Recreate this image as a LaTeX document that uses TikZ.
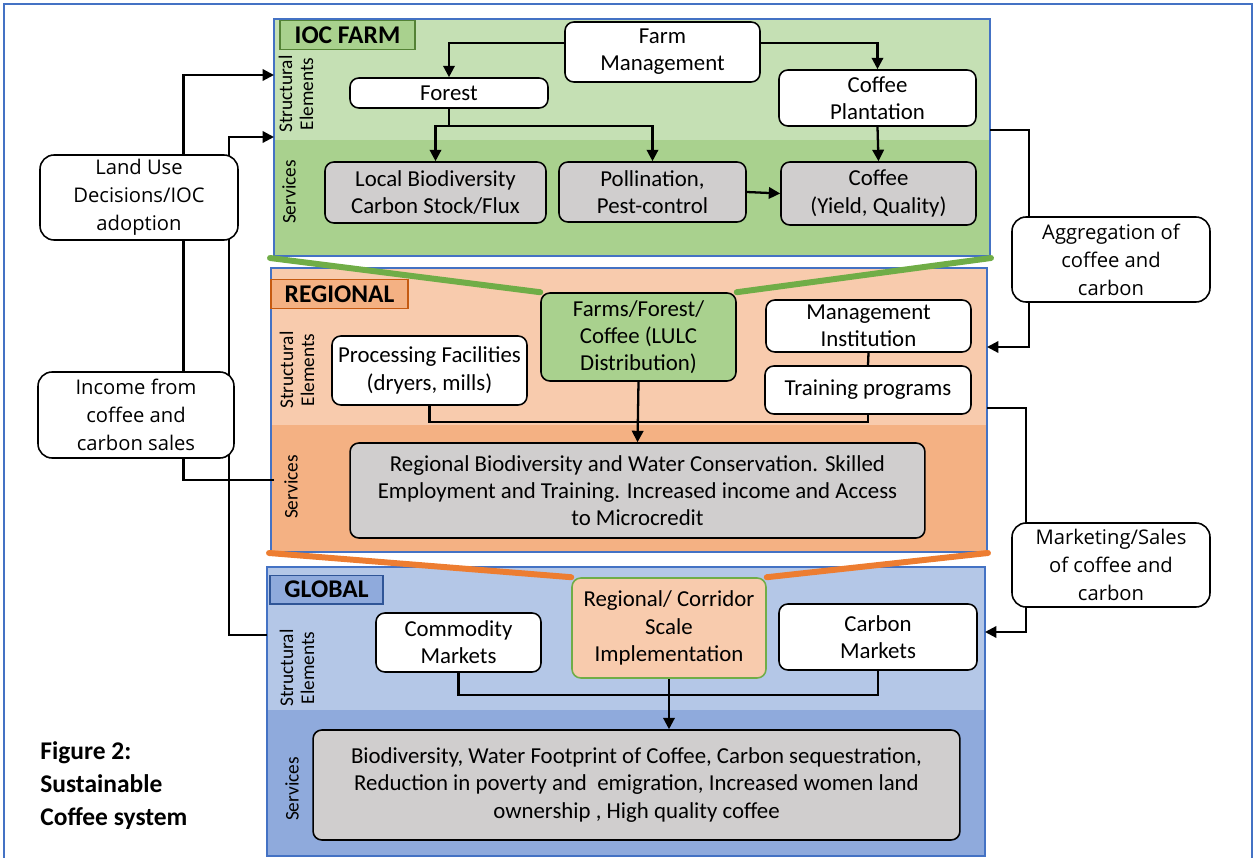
\documentclass[tikz,border=0pt]{standalone}
\usepackage{fontspec}
\setmainfont{Carlito}
\newfontfamily\sidefont{Open Sans}
\usepackage{tikz}
\usetikzlibrary{positioning,calc,arrows.meta,backgrounds}

\definecolor{iocL}{HTML}{C5E0B4}
\definecolor{iocD}{HTML}{A9D18E}
\definecolor{iocB}{HTML}{548235}
\definecolor{regL}{HTML}{F8CBAD}
\definecolor{regD}{HTML}{F4B183}
\definecolor{regB}{HTML}{C55A11}
\definecolor{glbL}{HTML}{B4C7E7}
\definecolor{glbD}{HTML}{8FAADC}
\definecolor{glbB}{HTML}{2F5597}
\definecolor{rim}{HTML}{4472C4}
\definecolor{tieG}{HTML}{70AD47}
\definecolor{tieO}{HTML}{ED7D31}
\definecolor{svcgray}{HTML}{D0CECE}

\begin{document}
\begin{tikzpicture}[x=0.02cm,y=-0.02cm,
        box/.style={draw,line width=0.9pt,rounded corners=5pt,fill=white,align=center,inner sep=1pt,font=\fontsize{13}{15.5}\selectfont},
        svc/.style={box,fill=svcgray},
        side/.style={box,rounded corners=8pt,font=\sidefont\fontsize{11.5}{16}\selectfont},
        tag/.style={draw,line width=0.8pt,font=\bfseries\fontsize{14.5}{16}\selectfont},
        lbl/.style={rotate=90,align=center,inner sep=0pt,font=\fontsize{11}{12}\selectfont},
        link/.style={line width=1.3pt},
        arr/.style={link,-{Triangle[length=6.5pt,width=6.5pt]}},
        tie/.style={line width=3.4pt,line cap=round}]
        \useasboundingbox (0,0) rectangle (1255,858);
        \draw[rim,line width=0.8pt] (4,858) -- (4,4) -- (1252,4) -- (1252,858);

        \begin{scope}[on background layer]
                \fill[iocL] (274,19) rectangle (990,140);
                \fill[iocD] (274,140) rectangle (990,256);
                \draw[rim,line width=0.6pt] (274,19) rectangle (990,256);

                \fill[regL] (271,268) rectangle (987,425);
                \fill[regD] (271,425) rectangle (987,552);
                \draw[rim,line width=0.6pt] (271,268) rectangle (987,552);

                \fill[glbL] (267,567) rectangle (985,710);
                \fill[glbD] (267,710) rectangle (985,856);
                \draw[rim,line width=0.6pt] (267,567) rectangle (985,856);
        \end{scope}

        \node[tag,fill=iocD,draw=iocB,minimum width=2.7cm,minimum height=0.52cm] (iocTag) at (347.5,35) {IOC FARM};
        \node[lbl] (iocStr) at (296,94) {Structural\\Elements};
        \node[lbl] (iocSrv) at (289,192) {Services};
        \node[box,minimum width=3.9cm,minimum height=1.2cm] (fm) at (662.5,52) {Farm\\Management};
        \node[box,minimum width=3.96cm,minimum height=0.6cm] (forest) at (449,93) {Forest};
        \node[box,minimum width=3.94cm,minimum height=1.12cm] (plant) at (877.5,98) {Coffee\\Plantation};
        \node[svc,minimum width=4.42cm,minimum height=1.22cm] (bio) at (435.5,192.5) {Local Biodiversity\\Carbon Stock/Flux};
        \node[svc,minimum width=3.74cm,minimum height=1.2cm] (poll) at (652.5,192) {Pollination,\\Pest-control};
        \node[svc,minimum width=3.9cm,minimum height=1.26cm] (cof) at (878.5,193.5) {Coffee\\(Yield, Quality)};

        \node[tag,fill=regD,draw=regB,minimum width=2.74cm,minimum height=0.56cm] (regTag) at (339.5,294) {REGIONAL};
        \node[lbl] (regStr) at (297,370) {Structural\\Elements};
        \node[lbl] (regSrv) at (291,487) {Services};
        \node[box,fill=iocD,minimum width=3.9cm,minimum height=1.76cm] (lulc) at (638.5,337) {Farms/Forest/\\Coffee (LULC\\Distribution)};
        \node[box,minimum width=4.1cm,minimum height=1.04cm] (inst) at (868.5,326) {Management\\Institution};
        \node[box,minimum width=4.12cm,minimum height=0.96cm] (train) at (868,390) {Training programs};
        \node[box,minimum width=3.9cm,minimum height=1.38cm] (proc) at (429.5,370.5) {Processing Facilities\\(dryers, mills)};
        \node[svc,minimum width=11.5cm,minimum height=1.9cm] (rsvc) at (637.5,490.5) {Regional Biodiversity and Water Conservation. Skilled\\Employment and Training. Increased income and Access\\to Microcredit};

        \node[tag,fill=glbD,draw=glbB,minimum width=2.26cm,minimum height=0.54cm] (glbTag) at (326.5,589.5) {GLOBAL};
        \node[lbl] (glbStr) at (297,668) {Structural\\Elements};
        \node[lbl] (glbSrv) at (292,789) {Services};
        \node[box,fill=regL,draw=tieG,minimum width=3.88cm,minimum height=2cm] (corr) at (669,628) {Regional/ Corridor\\Scale\\Implementation};
        \node[box,minimum width=3.3cm,minimum height=1.18cm] (comm) at (458.5,642.5) {Commodity\\Markets};
        \node[box,minimum width=3.96cm,minimum height=1.32cm] (carb) at (878,637) {Carbon\\Markets};
        \node[svc,minimum width=12.94cm,minimum height=2.2cm] (gsvc) at (636.5,785) {Biodiversity, Water Footprint of Coffee, Carbon sequestration,\\Reduction in poverty and\ \ emigration, Increased women land\\ownership , High quality coffee};

        \node[side,minimum width=3.96cm,minimum height=1.7cm] (land) at (139,197.5) {Land Use\\Decisions/IOC\\adoption};
        \node[side,minimum width=3.92cm,minimum height=1.72cm] (inc) at (136,415) {Income from\\coffee and\\carbon sales};
        \node[side,minimum width=3.96cm,minimum height=1.7cm] (agg) at (1111,259.5) {Aggregation of\\coffee and\\carbon};
        \node[side,minimum width=3.96cm,minimum height=1.68cm] (mkt) at (1111,565) {Marketing/Sales\\of coffee and\\carbon};

        \node[anchor=north west,align=left,inner sep=0pt,font=\bfseries\fontsize{14.5}{19}\selectfont] (cap) at (40,741) {Figure 2:\\Sustainable\\Coffee system};

        \coordinate (iocIn1) at (274,75);
        \coordinate (iocIn2) at (274,137);
        \coordinate (iocOut) at (990,130);
        \coordinate (regIn) at (987,347);
        \coordinate (regOut) at (987,408);
        \coordinate (regSv) at (274,480);
        \coordinate (glbIn) at (985,632);
        \coordinate (glbSt) at (267,635);
        \coordinate (iocSW) at (270,258);
        \coordinate (iocSE) at (991,258);
        \coordinate (regSW) at (269,553);
        \coordinate (regSE) at (988,553);

        \begin{scope}[on background layer]
                \draw[tie,tieG] (iocSW) -- (lulc.north west);
                \draw[tie,tieG] (lulc.north east) -- (iocSE);
                \draw[tie,tieO] (regSW) -- (corr.north west);
                \draw[tie,tieO] (corr.north east) -- (regSE);

                \draw[arr] (regSv) -| ($(inc.south)!.48!(inc.south east)$) |- (iocIn1);
                \draw[arr] (glbSt) -| ($(inc.south)!.94!(inc.south east)$) |- (iocIn2);
                \draw[arr] (iocOut) -| ($(agg.south)!.82!(agg.south west)$) |- (regIn);
                \draw[arr] (regOut) -| ($(mkt.south)!.85!(mkt.south west)$) |- (glbIn);
        \end{scope}

        \draw[arr] ([yshift=5pt]fm.west) -| (forest.north);
        \draw[arr] ([yshift=5pt]fm.east) -| (plant.north);
        \coordinate (fj) at (449,126);
        \draw[link] (forest.south) -- (fj);
        \draw[arr] (fj) -| (bio.north);
        \draw[arr] (fj) -| (poll.north);
        \draw[arr] (plant.south) -- (cof.north);
        \draw[arr] (poll.east) -- (cof.west);

        \draw[link] (inst.south) -- (train.north);
        \coordinate (rj) at (638.5,422);
        \draw[link] (proc.south) |- (rj) -| (train.south);
        \draw[arr] (lulc.south) -- (rsvc.north);

        \coordinate (gj) at (669,695);
        \draw[link] (comm.south) |- (gj) -| (carb.south);
        \draw[arr] (corr.south) -- (corr.south |- gsvc.north);
\end{tikzpicture}
\end{document}
